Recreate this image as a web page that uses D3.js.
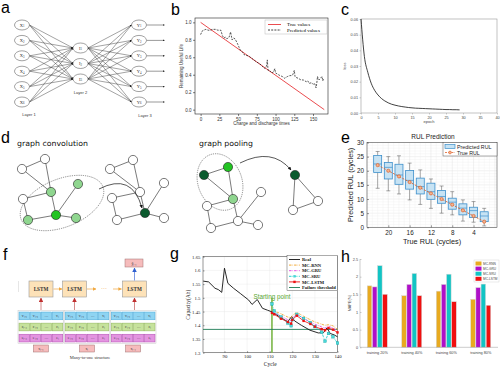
<!DOCTYPE html>
<html><head><meta charset="utf-8">
<script src="https://cdn.jsdelivr.net/npm/d3@7"></script>
<style>body{margin:0;background:#fff}svg{display:block}</style>
</head><body>
<svg id="c" width="500" height="367"></svg>
<script>
// ================= DATA =================
// (a) network
const annInputs = ["X1","X2","X3","X4","X5","X6"];
const annHidden = ["I1","I2","I3"];
const annOutputs = ["Y1","Y2","Y3","Y4","Y5","Y6"];
const annLayers = ["Layer 1","Layer 2","Layer 3"];
// (b) RUL
const bTrueX = [0,165];
const bTrueY = [1.0,0.0];
const bPredX = [0,2,4,7,10,13,16,20,23,27,29,31,33,35,38,40,42,44,46,49,51,53,56,58,62,65,68,71,74,78,81,83,86,88,89,90,93,95,97,99,100,102,104,106,109,112,114,116,119,121,123,125,126,127,130,134,137,141,143,145,148,150,152,153,154,155,156,157,158,160,162,163,164];
const bPredY = [0.86,0.90,0.91,0.92,0.91,0.91,0.92,0.92,0.91,0.91,0.85,0.82,0.83,0.81,0.83,0.89,0.80,0.82,0.81,0.76,0.72,0.68,0.66,0.63,0.62,0.61,0.59,0.57,0.55,0.53,0.51,0.49,0.47,0.50,0.57,0.45,0.44,0.42,0.43,0.47,0.42,0.41,0.40,0.39,0.38,0.36,0.37,0.38,0.39,0.39,0.40,0.45,0.38,0.37,0.36,0.34,0.34,0.32,0.33,0.30,0.31,0.29,0.30,0.28,0.25,0.30,0.38,0.35,0.34,0.36,0.38,0.33,0.35];
const bTicksX = [0,25,50,75,100,125,150];
const bTicksY = [0.0,0.2,0.4,0.6,0.8,1.0];
// (c) loss
const cEpoch = d3.range(0,30);
const cLoss = [0.060,0.036,0.026,0.019,0.0145,0.0115,0.0093,0.0077,0.0065,0.0056,0.0050,0.0045,0.0041,0.0038,0.0035,0.0033,0.0031,0.0030,0.0029,0.0028,0.0027,0.0026,0.0025,0.0024,0.0023,0.0022,0.0022,0.0021,0.0021,0.0020];
const cTicksX = [0,5,10,15,20,25,30,35,40];
const cTicksY = [0.00,0.01,0.02,0.03,0.04,0.05,0.06];
// (e) RUL prediction boxplot
const eTrueRUL = [22,20,18,16,14,12,10,8,6,4,2];
const eWhiskHi = [26.8,25.0,25.3,22.7,20.3,17.1,14.6,12.6,9.7,9.1,6.7];
const eQ3 =      [25.4,22.9,22.3,20.1,17.4,15.6,13.0,10.3,8.3,7.1,5.5];
const eMed =     [22.4,21.2,18.5,16.6,14.4,12.6,10.9,8.9,6.8,5.9,4.0];
const eQ1 =      [19.4,17.1,15.2,13.5,11.8,9.9,8.5,6.4,4.4,3.5,2.0];
const eWhiskLo = [13.8,12.9,11.8,9.7,8.1,6.7,5.0,4.4,2.2,1.8,0.5];
const eTicksX = [20,16,12,8,4];
const eTicksY = [0,5,10,15,20,25,30];
// (f) LSTM many-to-one
const fRows = [["v\u209c\u208b\u2083","v\u209c\u208b\u2082","\u2026","v\u209c"],["c\u209c\u208b\u2083","c\u209c\u208b\u2082","\u2026","c\u209c"],["e\u209c\u208b\u2083","e\u209c\u208b\u2082","\u2026","e\u209c"]];
const fSteps = ["x\u209c\u208b\u2081","x\u209c","x\u209c\u208a\u2081"];
// (g) capacity
const gRealCycle = [80.6,83,85.8,87.3,88.8,90,91.5,94,97,100.7,102.2,104.5,106.8,109,111,114.3,118,119.7,121,124,127.8,131.5,133.8,135.3,136.8,138.5,140];
const gRealCap =   [1.561,1.558,1.535,1.530,1.520,1.608,1.553,1.535,1.516,1.492,1.476,1.494,1.462,1.455,1.449,1.431,1.413,1.432,1.416,1.400,1.382,1.372,1.373,1.390,1.370,1.365,1.358];
const gPredCycle = [111,112,115,118,119.5,120,122,125,128,130,133,134.5,136,138,140];
const gRNN  = [1.455,1.452,1.442,1.430,1.428,1.436,1.447,1.433,1.420,1.412,1.404,1.400,1.402,1.398,1.385];
const gGRU  = [1.450,1.445,1.434,1.420,1.416,1.426,1.440,1.425,1.412,1.404,1.394,1.390,1.396,1.390,1.380];
const gSRU  = [1.478,1.452,1.430,1.408,1.398,1.420,1.440,1.425,1.410,1.395,1.375,1.342,1.370,1.358,1.335];
const gLSTM = [1.445,1.440,1.424,1.412,1.406,1.420,1.435,1.416,1.405,1.395,1.386,1.382,1.390,1.384,1.374];
const gThreshold = 1.385;
const gStart = 111;
const gTicksX = [90,100,110,120,130,140];
const gTicksY = [1.3,1.35,1.4,1.45,1.5,1.55,1.6,1.65];
// (h) MAPE bars
const hGroups = ["training 20%","training 40%","training 60%","training 80%"];
const hModels = ["MC-RNN","MC-GRU","MC-SRU","MC-LSTM"];
const hRNN  = [1.74,1.46,1.59,1.36];
const hGRU  = [1.71,1.78,1.78,1.69];
const hSRU  = [2.31,2.09,2.07,1.79];
const hLSTM = [1.50,1.46,1.29,1.19];
const hTicksY = [0,0.5,1,1.5,2,2.5];

// ================= DRAW =================
const svg = d3.select("#c");
svg.append("rect").attr("width",500).attr("height",367).attr("fill","#fff");
const SANS = "Liberation Sans, Arial, sans-serif";
const SERIF = "Liberation Serif, Times New Roman, serif";
const defs = svg.append("defs");
function marker(id,color,size){
  defs.append("marker").attr("id",id).attr("viewBox","0 0 10 10").attr("refX",9).attr("refY",5)
    .attr("markerWidth",size).attr("markerHeight",size).attr("orient","auto-start-reverse")
    .append("path").attr("d","M0,0L10,5L0,10z").attr("fill",color);
}
marker("arrK","#222",4); marker("arrO","#f0a840",5); marker("arrR","#c03030",5); marker("arrB","#3060d0",5); marker("arrD","#111",5);

function panelLabel(t,x,y){
  svg.append("text").attr("x",x).attr("y",y).attr("font-family",SANS).attr("font-size",16).text(t);
}
panelLabel("a",1,13); panelLabel("b",171,15); panelLabel("c",341,15);
panelLabel("d",1,143); panelLabel("e",341,143);
panelLabel("f",3,260); panelLabel("g",170,259); panelLabel("h",341,262);

// ---------- (a) ----------
{
  const g = svg.append("g");
  const yIn = d3.scalePoint().domain(annInputs).range([25,102]);
  const yOut = d3.scalePoint().domain(annOutputs).range([25,102]);
  const yHid = d3.scalePoint().domain(annHidden).range([48,79]);
  const xL = d3.scalePoint().domain(annLayers).range([22,139]);
  const rx=7.5, ry=5;
  const x1=xL("Layer 1"), x2=xL("Layer 2"), x3=xL("Layer 3");
  annInputs.forEach(a=>annHidden.forEach(h=>{
    g.append("line").attr("x1",x1+rx).attr("y1",yIn(a)).attr("x2",x2-rx).attr("y2",yHid(h))
      .attr("stroke","#333").attr("stroke-width",0.45).attr("marker-end","url(#arrK)");
  }));
  annHidden.forEach(h=>annOutputs.forEach(o=>{
    g.append("line").attr("x1",x2+rx).attr("y1",yHid(h)).attr("x2",x3-rx).attr("y2",yOut(o))
      .attr("stroke","#333").attr("stroke-width",0.45).attr("marker-end","url(#arrK)");
  }));
  annOutputs.forEach(o=>{
    g.append("line").attr("x1",x3+rx).attr("y1",yOut(o)).attr("x2",x3+rx+18).attr("y2",yOut(o))
      .attr("stroke","#333").attr("stroke-width",0.5).attr("marker-end","url(#arrK)");
  });
  function nodes(list,x,ys){
    list.forEach(n=>{
      g.append("ellipse").attr("cx",x).attr("cy",ys(n)).attr("rx",rx).attr("ry",ry).attr("fill","#fff").attr("stroke","#444").attr("stroke-width",0.5);
      const t=g.append("text").attr("x",x).attr("y",ys(n)+1.5).attr("text-anchor","middle").attr("font-family",SERIF).attr("font-size",4.5).attr("fill","#333");
      t.append("tspan").text(n[0]); t.append("tspan").attr("font-size",3).attr("dy",0.8).text(n.slice(1));
    });
  }
  nodes(annInputs,x1,yIn); nodes(annHidden,x2,yHid); nodes(annOutputs,x3,yOut);
  const ly = [116,94,117];
  annLayers.forEach((l,i)=>g.append("text").attr("x",xL(l)+(i==0?7:(i==2?6:0))).attr("y",ly[i]).attr("text-anchor","middle")
    .attr("font-family",SANS).attr("font-size",4).attr("fill","#333").text(l));
}

// ---------- (b) ----------
{
  const g = svg.append("g");
  const L=195,R=328,T=18,B=114;
  const x = d3.scaleLinear().domain([-7.5,170]).range([L,R]);
  const y = d3.scaleLinear().domain([-0.05,1.05]).range([B,T]);
  g.append("rect").attr("x",L).attr("y",T).attr("width",R-L).attr("height",B-T).attr("fill","none").attr("stroke","#222").attr("stroke-width",0.6);
  const ax = g.append("g").attr("transform",`translate(0,${B})`).call(d3.axisBottom(x).tickValues(bTicksX).tickSize(2).tickPadding(1.5).tickFormat(d3.format("d")));
  const ay = g.append("g").attr("transform",`translate(${L},0)`).call(d3.axisLeft(y).tickValues(bTicksY).tickSize(2).tickPadding(1.5).tickFormat(d3.format(".1f")));
  [ax,ay].forEach(a=>{a.select(".domain").remove();a.selectAll("line").attr("stroke-width",0.5);a.selectAll("text").attr("font-size",4.5).attr("font-family",SANS).attr("fill","#333");});
  g.append("path").datum(d3.zip(bTrueX,bTrueY)).attr("d",d3.line().x(d=>x(d[0])).y(d=>y(d[1]))).attr("stroke","#e8383b").attr("stroke-width",0.9).attr("fill","none");
  g.append("path").datum(d3.zip(bPredX,bPredY)).attr("d",d3.line().x(d=>x(d[0])).y(d=>y(d[1]))).attr("stroke","#111").attr("stroke-width",0.7).attr("stroke-dasharray","2,1.2").attr("fill","none");
  g.append("text").attr("x",(L+R)/2).attr("y",125).attr("text-anchor","middle").attr("font-family",SANS).attr("font-size",4.5).attr("fill","#333").text("Charge and discharge times");
  g.append("text").attr("transform",`translate(183,${(T+B)/2}) rotate(-90)`).attr("text-anchor","middle").attr("font-family",SANS).attr("font-size",4.5).attr("fill","#333").text("Remaining Useful Life");
  // legend
  g.append("rect").attr("x",265).attr("y",20).attr("width",62).attr("height",14).attr("fill","#fff").attr("stroke","#bbb").attr("stroke-width",0.5);
  g.append("line").attr("x1",268).attr("x2",281).attr("y1",24.5).attr("y2",24.5).attr("stroke","#e8383b").attr("stroke-width",0.9);
  g.append("line").attr("x1",268).attr("x2",281).attr("y1",30).attr("y2",30).attr("stroke","#111").attr("stroke-width",0.8).attr("stroke-dasharray","2,1.2");
  g.append("text").attr("x",287).attr("y",26).attr("font-family",SERIF).attr("font-size",5).text("True values");
  g.append("text").attr("x",287).attr("y",31.5).attr("font-family",SERIF).attr("font-size",5).text("Predicted values");
}

// ---------- (c) ----------
{
  const g = svg.append("g");
  const L=361,R=497,T=19,B=113;
  const x = d3.scaleLinear().domain([0,40]).range([L,R]);
  const y = d3.scaleLinear().domain([0,0.06]).range([B,T]);
  g.append("rect").attr("x",L).attr("y",T).attr("width",R-L).attr("height",B-T).attr("fill","none").attr("stroke","#999").attr("stroke-width",0.6);
  const ax = g.append("g").attr("transform",`translate(0,${B})`).call(d3.axisBottom(x).tickValues(cTicksX).tickSize(1.5).tickPadding(1.5));
  const ay = g.append("g").attr("transform",`translate(${L},0)`).call(d3.axisLeft(y).tickValues(cTicksY).tickSize(1.5).tickPadding(1.5).tickFormat(d3.format(".2f")));
  [ax,ay].forEach(a=>{a.select(".domain").remove();a.selectAll("line").attr("stroke","#999").attr("stroke-width",0.5);a.selectAll("text").attr("font-size",3.8).attr("font-family",SANS).attr("fill","#444");});
  g.append("path").datum(d3.zip(cEpoch,cLoss)).attr("d",d3.line().curve(d3.curveMonotoneX).x(d=>x(d[0])).y(d=>y(d[1]))).attr("stroke","#111").attr("stroke-width",0.8).attr("fill","none");
  g.append("text").attr("x",(L+R)/2).attr("y",123).attr("text-anchor","middle").attr("font-family",SANS).attr("font-size",4).attr("fill","#444").text("epoch");
  g.append("text").attr("transform",`translate(346,${(T+B)/2}) rotate(-90)`).attr("text-anchor","middle").attr("font-family",SANS).attr("font-size",4).attr("fill","#444").text("loss");
}

// ---------- (d) ----------
{
  const g = svg.append("g");
  const COL = {w:"#ffffff", l:"#8fd68f", b:"#22c322", d:"#0b5a2e"};
  const sx = d3.scaleLinear().domain([0,100]).range([0,100]);
  const graphs = [
    {nodes:[[22,169,"w"],[45,159,"w"],[51,192,"l"],[78,184,"l"],[23,199,"w"],[56,215,"b"],[28,220,"l"],[76,218,"l"]], edges:[[0,1],[0,2],[1,2],[2,4],[2,5],[3,5],[4,6],[6,5],[5,7]]},
    {nodes:[[110,169,"w"],[133,160,"w"],[140,192,"w"],[164,183,"w"],[112,198,"w"],[145,213,"d"],[117,220,"w"],[164,218,"w"]], edges:[[0,1],[0,2],[1,2],[2,4],[2,5],[3,5],[4,6],[6,5],[5,7]]},
    {nodes:[[204,175,"d"],[228,167,"b"],[233,199,"l"],[207,206,"w"],[261,192,"w"],[211,228,"w"],[238,221,"w"],[258,225,"w"]], edges:[[0,1],[0,2],[1,2],[2,3],[3,5],[5,6],[6,2],[6,4],[6,7]]},
    {nodes:[[295,175,"d"],[318,201,"w"],[293,210,"w"]], edges:[[0,1],[0,2],[1,2]]}
  ];
  g.append("ellipse").attr("transform","translate(62,203) rotate(-22)").attr("rx",44).attr("ry",24).attr("fill","none").attr("stroke","#333").attr("stroke-width",0.5).attr("stroke-dasharray","1.2,1");
  g.append("ellipse").attr("transform","translate(220,182) rotate(-20)").attr("rx",22).attr("ry",29).attr("fill","none").attr("stroke","#333").attr("stroke-width",0.5).attr("stroke-dasharray","1.2,1");
  graphs.forEach(gr=>{
    gr.edges.forEach(e=>{
      const a=gr.nodes[e[0]], b=gr.nodes[e[1]];
      g.append("line").attr("x1",sx(a[0])).attr("y1",a[1]).attr("x2",sx(b[0])).attr("y2",b[1]).attr("stroke","#222").attr("stroke-width",0.6);
    });
  });
  graphs.forEach(gr=>{
    gr.nodes.forEach(n=>{
      g.append("circle").attr("cx",sx(n[0])).attr("cy",n[1]).attr("r",4.6).attr("fill",COL[n[2]]).attr("stroke","#222").attr("stroke-width",0.6);
    });
  });
  g.append("path").attr("d","M99,189 Q132,172 142,208").attr("fill","none").attr("stroke","#111").attr("stroke-width",0.7).attr("marker-end","url(#arrD)");
  g.append("path").attr("d","M240,163 Q272,147 291,170").attr("fill","none").attr("stroke","#111").attr("stroke-width",0.7).attr("marker-end","url(#arrD)");
  const fnt = "DejaVu Sans, sans-serif";
  g.append("text").attr("x",17).attr("y",146).attr("font-family",fnt).attr("font-stretch","condensed").attr("font-size",7.5).attr("fill","#111").attr("textLength",71).attr("lengthAdjust","spacingAndGlyphs").text("graph convolution");
  g.append("text").attr("x",199).attr("y",146).attr("font-family",fnt).attr("font-stretch","condensed").attr("font-size",7.5).attr("fill","#111").attr("textLength",54).attr("lengthAdjust","spacingAndGlyphs").text("graph pooling");
}

// ---------- (e) ----------
{
  const g = svg.append("g");
  const L=367,R=497,T=142.5,B=227.3;
  const x = d3.scaleLinear().domain([24,-0.4]).range([L,R]);
  const y = d3.scaleLinear().domain([0,30]).range([B,T]);
  d3.range(0,31,1).forEach(v=>g.append("line").attr("x1",L).attr("x2",R).attr("y1",y(v)).attr("y2",y(v)).attr("stroke",v%5==0?"#dedede":"#f1f1f1").attr("stroke-width",0.4));
  d3.range(0,25,1).forEach(v=>g.append("line").attr("x1",x(v)).attr("x2",x(v)).attr("y1",T).attr("y2",B).attr("stroke",v%4==0?"#dedede":"#f1f1f1").attr("stroke-width",0.4));
  g.append("rect").attr("x",L).attr("y",T).attr("width",R-L).attr("height",B-T).attr("fill","none").attr("stroke","#333").attr("stroke-width",0.5);
  const ax = g.append("g").attr("transform",`translate(0,${B})`).call(d3.axisBottom(x).tickValues(eTicksX).tickSize(-2).tickPadding(3));
  const ay = g.append("g").attr("transform",`translate(${L},0)`).call(d3.axisLeft(y).tickValues(eTicksY).tickSize(-2).tickPadding(3));
  [ax,ay].forEach(a=>{a.select(".domain").remove();a.selectAll("line").attr("stroke","#333").attr("stroke-width",0.5);a.selectAll("text").attr("font-size",6.3).attr("font-family",SANS).attr("fill","#222");});
  const bw=8;
  eTrueRUL.forEach((r,i)=>{
    const cx=x(r);
    g.append("line").attr("x1",cx).attr("x2",cx).attr("y1",y(eWhiskHi[i])).attr("y2",y(eQ3[i])).attr("stroke","#555").attr("stroke-width",0.5);
    g.append("line").attr("x1",cx).attr("x2",cx).attr("y1",y(eQ1[i])).attr("y2",y(eWhiskLo[i])).attr("stroke","#555").attr("stroke-width",0.5);
    g.append("line").attr("x1",cx-2).attr("x2",cx+2).attr("y1",y(eWhiskHi[i])).attr("y2",y(eWhiskHi[i])).attr("stroke","#555").attr("stroke-width",0.5);
    g.append("line").attr("x1",cx-2).attr("x2",cx+2).attr("y1",y(eWhiskLo[i])).attr("y2",y(eWhiskLo[i])).attr("stroke","#555").attr("stroke-width",0.5);
    g.append("rect").attr("x",cx-bw/2).attr("y",y(eQ3[i])).attr("width",bw).attr("height",y(eQ1[i])-y(eQ3[i])).attr("fill","#c7e3f4").attr("stroke","#3d8fcb").attr("stroke-width",0.8);
    g.append("line").attr("x1",cx-bw/2).attr("x2",cx+bw/2).attr("y1",y(eMed[i])).attr("y2",y(eMed[i])).attr("stroke","#3d8fcb").attr("stroke-width",0.7);
  });
  g.append("path").datum(eTrueRUL).attr("d",d3.line().x(d=>x(d)).y(d=>y(d))).attr("stroke","#e0622c").attr("stroke-width",0.9).attr("stroke-dasharray","2,1.5").attr("fill","none");
  eTrueRUL.forEach(r=>g.append("circle").attr("cx",x(r)).attr("cy",y(r)).attr("r",1.6).attr("fill","#f2b48f").attr("stroke","#e0622c").attr("stroke-width",0.7));
  g.append("text").attr("x",433).attr("y",139).attr("text-anchor","middle").attr("font-family",SANS).attr("font-size",6.5).attr("fill","#222").text("RUL Prediction");
  g.append("text").attr("x",432).attr("y",244).attr("text-anchor","middle").attr("font-family",SANS).attr("font-size",7.3).attr("fill","#222").text("True RUL (cycles)");
  g.append("text").attr("transform",`translate(353,${(T+B)/2}) rotate(-90)`).attr("text-anchor","middle").attr("font-family",SANS).attr("font-size",7.3).attr("fill","#222").text("Predicted RUL (cycles)");
  g.append("rect").attr("x",443).attr("y",142.5).attr("width",54).attr("height",13.5).attr("fill","#fff").attr("stroke","#333").attr("stroke-width",0.4);
  g.append("rect").attr("x",445).attr("y",144.5).attr("width",10).attr("height",4).attr("fill","#c7e3f4").attr("stroke","#3d8fcb").attr("stroke-width",0.7);
  g.append("line").attr("x1",445).attr("x2",455).attr("y1",152.5).attr("y2",152.5).attr("stroke","#e0622c").attr("stroke-width",0.8).attr("stroke-dasharray","2,1.2");
  g.append("circle").attr("cx",450).attr("cy",152.5).attr("r",1.4).attr("fill","#f2b48f").attr("stroke","#e0622c").attr("stroke-width",0.6);
  g.append("text").attr("x",457).attr("y",148.6).attr("font-family",SANS).attr("font-size",5.3).attr("fill","#222").text("Predicted RUL");
  g.append("text").attr("x",457).attr("y",154.6).attr("font-family",SANS).attr("font-size",5.3).attr("fill","#222").text("True RUL");
}

// ---------- (f) ----------
{
  const g = svg.append("g");
  const lstmCenters = [41,74.5,134.5];
  const groupX = d3.scaleBand().domain([0,1,2]).range([19,155]).paddingInner(0.05);
  const rowY = d3.scaleBand().domain([0,1,2]).range([312,342]).paddingInner(0.3);
  const rowFill = ["#8fd4f2","#c6e29c","#e394e0"], rowStroke=["#4aa8d8","#8fb45a","#b04cb0"];
  [0,1,2].forEach(k=>{
    const gx=groupX(k), gw=groupX.bandwidth();
    g.append("rect").attr("x",gx-1).attr("y",310.5).attr("width",gw+2).attr("height",33).attr("fill","none").attr("stroke","#bbb").attr("stroke-width",0.4);
    const cx = d3.scaleBand().domain([0,1,2,3]).range([gx,gx+gw]).paddingInner(0.05);
    fRows.forEach((row,ri)=>{
      row.forEach((lab,ci)=>{
        g.append("rect").attr("x",cx(ci)).attr("y",rowY(ri)).attr("width",cx.bandwidth()).attr("height",rowY.bandwidth()).attr("fill",rowFill[ri]).attr("stroke",rowStroke[ri]).attr("stroke-width",0.5);
        g.append("text").attr("x",cx(ci)+cx.bandwidth()/2).attr("y",rowY(ri)+rowY.bandwidth()/2+1.3).attr("text-anchor","middle").attr("font-family",SERIF).attr("font-size",3.8).attr("fill","#333").text(lab);
      });
    });
    const pcx = gx+gw/2;
    g.append("rect").attr("x",pcx-7.5).attr("y",345).attr("width",15).attr("height",7).attr("fill","#f6bcbc").attr("stroke","#a07070").attr("stroke-width",0.5);
    g.append("text").attr("x",pcx).attr("y",350.3).attr("text-anchor","middle").attr("font-family",SERIF).attr("font-size",3.8).attr("fill","#333").text(fSteps[k]);
    const lx = lstmCenters[k];
    g.append("rect").attr("x",lx-12).attr("y",281).attr("width",24).attr("height",16).attr("fill","#fde2b8").attr("stroke","#999").attr("stroke-width",0.6);
    g.append("text").attr("x",lx).attr("y",291).attr("text-anchor","middle").attr("font-family",SERIF).attr("font-weight","bold").attr("font-size",5.2).attr("fill","#333").text("LSTM");
    g.append("line").attr("x1",lx).attr("x2",lx).attr("y1",310).attr("y2",298).attr("stroke","#d08080").attr("stroke-width",0.9).attr("marker-end","url(#arrR)");
  });
  g.append("line").attr("x1",53.5).attr("x2",62).attr("y1",289).attr("y2",289).attr("stroke","#f0a840").attr("stroke-width",0.7).attr("marker-end","url(#arrO)");
  g.append("line").attr("x1",87).attr("x2",96).attr("y1",289).attr("y2",289).attr("stroke","#f0a840").attr("stroke-width",0.7).attr("marker-end","url(#arrO)");
  g.append("text").attr("x",104).attr("y",290.5).attr("text-anchor","middle").attr("font-family",SERIF).attr("font-size",6).attr("fill","#f0a840").text("\u00b7\u00b7\u00b7");
  g.append("line").attr("x1",113).attr("x2",121.5).attr("y1",289).attr("y2",289).attr("stroke","#f0a840").attr("stroke-width",0.7).attr("marker-end","url(#arrO)");
  g.append("line").attr("x1",134.5).attr("x2",134.5).attr("y1",280.5).attr("y2",268).attr("stroke","#7090e0").attr("stroke-width",0.9).attr("marker-end","url(#arrB)");
  g.append("rect").attr("x",125).attr("y",259).attr("width",18).attr("height",8).attr("fill","#f6bcbc").attr("stroke","#a07070").attr("stroke-width",0.5);
  g.append("text").attr("x",134).attr("y",264.8).attr("text-anchor","middle").attr("font-family",SERIF).attr("font-size",3.8).attr("fill","#333").text("\u0177\u209c\u208a\u2081");
  g.append("line").attr("x1",18.5).attr("x2",18.5).attr("y1",281).attr("y2",292).attr("stroke","#ccc").attr("stroke-width",0.5);
  g.append("text").attr("x",90).attr("y",359).attr("text-anchor","middle").attr("font-family",SERIF).attr("font-size",4.5).attr("fill","#333").text("Many-to-one structure");
}

// ---------- (g) ----------
{
  const g = svg.append("g");
  const L=203,R=337.5,T=256.7,B=352.7;
  const x = d3.scaleLinear().domain([80.5,140]).range([L,R]);
  const y = d3.scaleLinear().domain([1.3,1.65]).range([B,T]);
  gTicksY.forEach(v=>g.append("line").attr("x1",L).attr("x2",R).attr("y1",y(v)).attr("y2",y(v)).attr("stroke","#e6e6e6").attr("stroke-width",0.4));
  gTicksX.forEach(v=>g.append("line").attr("x1",x(v)).attr("x2",x(v)).attr("y1",T).attr("y2",B).attr("stroke","#e6e6e6").attr("stroke-width",0.4));
  g.append("rect").attr("x",L).attr("y",T).attr("width",R-L).attr("height",B-T).attr("fill","none").attr("stroke","#333").attr("stroke-width",0.5);
  const ax = g.append("g").attr("transform",`translate(0,${B})`).call(d3.axisBottom(x).tickValues(gTicksX).tickSize(-1.5).tickPadding(1.5));
  const ay = g.append("g").attr("transform",`translate(${L},0)`).call(d3.axisLeft(y).tickValues(gTicksY).tickSize(-1.5).tickPadding(2.5).tickFormat(d=>String(+d.toFixed(2))));
  [ax,ay].forEach(a=>{a.select(".domain").remove();a.selectAll("line").attr("stroke","#333").attr("stroke-width",0.5);a.selectAll("text").attr("font-size",4.8).attr("font-family",SERIF).attr("fill","#222");});
  g.append("line").attr("x1",x(gStart)).attr("x2",x(gStart)).attr("y1",y(1.5)).attr("y2",B).attr("stroke","#7ab648").attr("stroke-width",1.6);
  g.append("text").attr("x",272).attr("y",298.5).attr("text-anchor","middle").attr("font-family",SANS).attr("font-size",6.3).attr("fill","#5aa832").text("Starting point");
  g.append("line").attr("x1",L).attr("x2",R).attr("y1",y(gThreshold)).attr("y2",y(gThreshold)).attr("stroke","#1b7a52").attr("stroke-width",0.9);
  const line = d3.line().x(d=>x(d[0])).y(d=>y(d[1]));
  g.append("path").datum(d3.zip(gRealCycle,gRealCap)).attr("d",line).attr("stroke","#111").attr("stroke-width",0.9).attr("fill","none");
  g.append("path").datum(d3.zip(gPredCycle,gRNN)).attr("d",line).attr("stroke","#f0a020").attr("stroke-width",0.8).attr("stroke-dasharray","2.5,1,0.6,1").attr("fill","none");
  g.append("path").datum(d3.zip(gPredCycle,gGRU)).attr("d",line).attr("stroke","#e040e0").attr("stroke-width",0.8).attr("stroke-dasharray","2.5,1,0.6,1").attr("fill","none");
  g.append("path").datum(d3.zip(gPredCycle,gSRU)).attr("d",line).attr("stroke","#10c8c8").attr("stroke-width",0.8).attr("stroke-dasharray","2.5,1,0.6,1").attr("fill","none");
  g.append("path").datum(d3.zip(gPredCycle,gLSTM)).attr("d",line).attr("stroke","#ee1111").attr("stroke-width",0.8).attr("fill","none");
  gPredCycle.forEach((c,i)=>{
    g.append("rect").attr("x",x(c)-1.3).attr("y",y(gSRU[i])-1.3).attr("width",2.6).attr("height",2.6).attr("fill","#4ad8d8").attr("stroke","#10a8a8").attr("stroke-width",0.4);
    g.append("rect").attr("x",x(c)-1.2).attr("y",y(gLSTM[i])-1.2).attr("width",2.4).attr("height",2.4).attr("fill","#ee1111");
  });
  const lx=287, ly=255.5;
  g.append("rect").attr("x",lx).attr("y",ly).attr("width",50.5).attr("height",35).attr("fill","#fff").attr("stroke","#333").attr("stroke-width",0.4);
  const leg = [["Real","#111",null,null],["MC-RNN","#f0a020","2.5,1,0.6,1",null],["MC-GRU","#e040e0","2.5,1,0.6,1",null],["MC-SRU","#10c8c8","2.5,1,0.6,1","#4ad8d8"],["MC-LSTM","#ee1111",null,"#ee1111"],["Failure threshold","#1b7a52",null,null]];
  leg.forEach((e,i)=>{
    const yy = ly+4+i*5.6;
    g.append("line").attr("x1",lx+2).attr("x2",lx+13).attr("y1",yy).attr("y2",yy).attr("stroke",e[1]).attr("stroke-width",0.9).attr("stroke-dasharray",e[2]);
    if(e[3]) g.append("rect").attr("x",lx+6.3).attr("y",yy-1.2).attr("width",2.4).attr("height",2.4).attr("fill",e[3]);
    g.append("text").attr("x",lx+15).attr("y",yy+1.6).attr("font-family",SERIF).attr("font-weight","bold").attr("font-size",4.6).attr("fill","#111").text(e[0]);
  });
  g.append("text").attr("x",(L+R)/2).attr("y",365.5).attr("text-anchor","middle").attr("font-family",SERIF).attr("font-size",5.5).attr("fill","#222").text("Cycle");
  g.append("text").attr("transform",`translate(190,${(T+B)/2}) rotate(-90)`).attr("text-anchor","middle").attr("font-family",SERIF).attr("font-size",5.5).attr("fill","#222").text("Capacity(Ah)");
}

// ---------- (h) ----------
{
  const g = svg.append("g");
  const L=360,R=498,T=259,B=347.3;
  const x0 = d3.scaleBand().domain(hGroups).range([L,R]).paddingInner(0.42).paddingOuter(0.21);
  const x1 = d3.scaleBand().domain(hModels).range([0,x0.bandwidth()]).paddingInner(0.12);
  const y = d3.scaleLinear().domain([0,2.5]).range([B,T]);
  const colors = {"MC-RNN":"#e8aa20","MC-GRU":"#b010c8","MC-SRU":"#12c4c4","MC-LSTM":"#f01010"};
  const vals = {"MC-RNN":hRNN,"MC-GRU":hGRU,"MC-SRU":hSRU,"MC-LSTM":hLSTM};
  g.append("line").attr("x1",L).attr("x2",L).attr("y1",T).attr("y2",B).attr("stroke","#999").attr("stroke-width",0.5);
  const ay = g.append("g").attr("transform",`translate(${L},0)`).call(d3.axisLeft(y).tickValues(hTicksY).tickSize(-1.5).tickPadding(2).tickFormat(d=>String(d)));
  ay.select(".domain").remove(); ay.selectAll("line").attr("stroke","#999").attr("stroke-width",0.5);
  ay.selectAll("text").attr("font-size",3.8).attr("font-family",SANS).attr("fill","#444");
  hGroups.forEach((grp,gi)=>{
    hModels.forEach(m=>{
      const v = vals[m][gi];
      g.append("rect").attr("x",x0(grp)+x1(m)).attr("y",y(v)).attr("width",x1.bandwidth()).attr("height",B-y(v)).attr("fill",colors[m]).attr("stroke","#d8d8d8").attr("stroke-width",0.5);
    });
    g.append("text").attr("x",x0(grp)+x0.bandwidth()/2).attr("y",354).attr("text-anchor","middle").attr("font-family",SANS).attr("font-size",3.8).attr("fill","#444").text(grp);
  });
  g.append("line").attr("x1",L).attr("x2",R).attr("y1",B).attr("y2",B).attr("stroke","#999").attr("stroke-width",0.5);
  g.append("text").attr("transform",`translate(351,303) rotate(-90)`).attr("text-anchor","middle").attr("font-family",SANS).attr("font-size",3.8).attr("fill","#444").text("MAPE(%)");
  g.append("rect").attr("x",474).attr("y",260).attr("width",25).attr("height",22).attr("fill","#fff").attr("stroke","#ccc").attr("stroke-width",0.4);
  hModels.forEach((m,i)=>{
    const yy=261.5+i*5.1;
    g.append("rect").attr("x",475.5).attr("y",yy).attr("width",6).attr("height",4).attr("fill",colors[m]);
    g.append("text").attr("x",483).attr("y",yy+3.1).attr("font-family",SANS).attr("font-size",3.2).attr("fill","#444").text(m);
  });
}
</script>
</body></html>
